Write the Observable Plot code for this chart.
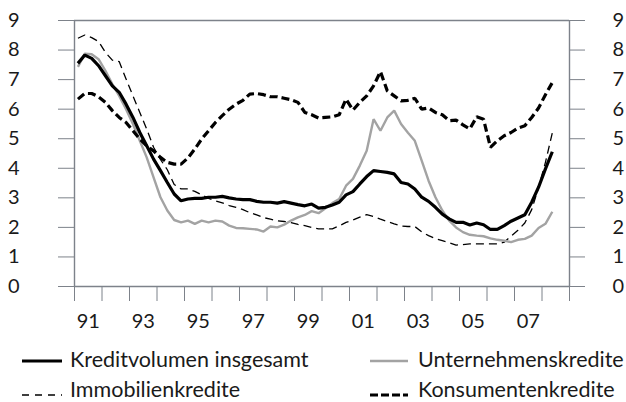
<!DOCTYPE html>
<html>
<head>
<meta charset="utf-8">
<script src="https://cdn.jsdelivr.net/npm/d3@7"></script>
<script src="https://cdn.jsdelivr.net/npm/@observablehq/plot@0.6"></script>
<style>
  html, body { margin: 0; padding: 0; background: #fff; }
  body { width: 626px; height: 402px; overflow: hidden; font-family: Lato, "Open Sans", sans-serif; color: #1a1a1a; }
  #chart svg, #legend svg { display: block; }
</style>
</head>
<body>
<div id="chart"></div>
<div id="legend"></div>
<script>
// Quarterly observations, 1991 Q1 … 2008 Q2 (year-over-year growth, %)
const firstQuarter = 1991; // first year of data
const nQuarters = 70;

const kreditvolumen = [
  7.55, 7.83, 7.72, 7.47, 7.13, 6.79, 6.57, 6.17, 5.72, 5.21, 4.76, 4.31,
  3.92, 3.52, 3.13, 2.90, 2.96, 2.98, 2.98, 3.02, 3.02, 3.05, 3.00, 2.96,
  2.94, 2.94, 2.88, 2.85, 2.85, 2.82, 2.87, 2.82, 2.77, 2.73, 2.79, 2.65,
  2.68, 2.76, 2.85, 3.10, 3.21, 3.47, 3.72, 3.92, 3.89, 3.86, 3.81, 3.52,
  3.47, 3.30, 3.02, 2.88, 2.68, 2.45, 2.29, 2.17, 2.17, 2.08, 2.15, 2.09,
  1.93, 1.93, 2.06, 2.21, 2.32, 2.43, 2.85, 3.36, 3.98, 4.56
];
const unternehmen = [
  7.43, 7.88, 7.86, 7.69, 7.30, 6.85, 6.45, 6.00, 5.50, 4.93, 4.37, 3.69,
  3.02, 2.57, 2.25, 2.17, 2.23, 2.12, 2.23, 2.17, 2.23, 2.20, 2.06, 1.98,
  1.97, 1.95, 1.93, 1.86, 2.03, 2.00, 2.09, 2.23, 2.34, 2.42, 2.55, 2.48,
  2.65, 2.82, 2.96, 3.41, 3.64, 4.09, 4.59, 5.66, 5.27, 5.72, 5.95, 5.50,
  5.20, 4.93, 4.26, 3.58, 3.02, 2.57, 2.23, 2.00, 1.84, 1.75, 1.72, 1.70,
  1.63, 1.58, 1.55, 1.50, 1.58, 1.61, 1.72, 1.98, 2.12, 2.53
];
const immobilien = [
  8.40, 8.51, 8.42, 8.29, 7.92, 7.66, 7.61, 7.02, 6.45, 5.89, 5.33, 4.71,
  4.30, 3.95, 3.45, 3.30, 3.30, 3.22, 3.10, 2.98, 2.90, 2.83, 2.74, 2.68,
  2.60, 2.50, 2.42, 2.33, 2.28, 2.22, 2.20, 2.16, 2.10, 2.06, 2.00, 1.95,
  1.95, 1.95, 2.05, 2.17, 2.25, 2.35, 2.43, 2.37, 2.28, 2.20, 2.12, 2.05,
  2.03, 2.03, 1.85, 1.72, 1.62, 1.55, 1.48, 1.40, 1.42, 1.44, 1.44, 1.44,
  1.44, 1.44, 1.50, 1.70, 1.90, 2.15, 2.60, 3.35, 4.20, 5.20
];
const konsum = [
  6.34, 6.53, 6.53, 6.42, 6.23, 5.95, 5.72, 5.55, 5.27, 4.99, 4.76, 4.59,
  4.37, 4.20, 4.14, 4.14, 4.35, 4.65, 4.99, 5.27, 5.55, 5.78, 6.00, 6.17,
  6.30, 6.51, 6.53, 6.49, 6.42, 6.42, 6.37, 6.32, 6.23, 5.89, 5.81, 5.70,
  5.72, 5.74, 5.81, 6.34, 5.97, 6.23, 6.45, 6.79, 7.27, 6.62, 6.45, 6.28,
  6.30, 6.37, 6.00, 6.04, 5.89, 5.81, 5.61, 5.63, 5.47, 5.33, 5.74, 5.66,
  4.71, 4.93, 5.10, 5.21, 5.36, 5.44, 5.72, 6.04, 6.49, 6.90
];

const seriesNames = ["Kreditvolumen insgesamt", "Unternehmenskredite", "Immobilienkredite", "Konsumentenkredite"];
const yTicks = [0, 1, 2, 3, 4, 5, 6, 7, 8, 9];
const xLabelYears = [1991, 1993, 1995, 1997, 1999, 2001, 2003, 2005, 2007];
const xLabels = ["91", "93", "95", "97", "99", "01", "03", "05", "07"];

// styles
const styles = {
  "Kreditvolumen insgesamt": {stroke: "#000", strokeWidth: 3.2, dash: null, legendDash: null},
  "Unternehmenskredite": {stroke: "#a3a3a3", strokeWidth: 2.4, dash: null, legendDash: null},
  "Immobilienkredite": {stroke: "#000", strokeWidth: 1.3, dash: "8,5", legendDash: "7,6"},
  "Konsumentenkredite": {stroke: "#000", strokeWidth: 3.2, dash: "8,4", legendDash: "8,3"}
};

const quarterTime = d3.range(nQuarters).map(i => firstQuarter + 0.125 + 0.25 * i);
const seriesValues = [kreditvolumen, unternehmen, immobilien, konsum];
const data = seriesNames.map((name, s) => quarterTime.map((t, i) => ({series: name, t, v: seriesValues[s][i]})));

const axisColor = "#7d828a";
const yearTicks = d3.range(firstQuarter, 2010);

const lineMarks = [2, 1, 0, 3].map(s => Plot.line(data[s], {
  x: "t", y: "v",
  stroke: styles[seriesNames[s]].stroke,
  strokeWidth: styles[seriesNames[s]].strokeWidth,
  strokeDasharray: styles[seriesNames[s]].dash,
  strokeLinejoin: "miter",
  strokeLinecap: "butt",
  curve: "linear"
}));

const chart = Plot.plot({
  width: 626,
  height: 338,
  marginLeft: 74,
  marginRight: 57,
  marginTop: 20,
  marginBottom: 52,
  style: {fontFamily: "Lato, 'Open Sans', sans-serif", fontSize: "20px", color: "#1a1a1a", background: "#fff"},
  x: {domain: [1991, 2009], label: null},
  y: {domain: [0, 9], label: null},
  marks: [
    Plot.ruleY([0, 9], {stroke: axisColor, strokeWidth: 1.4}),
    Plot.ruleX([1991, 2009], {stroke: axisColor, strokeWidth: 1.4}),
    Plot.axisY(yTicks, {anchor: "left", label: null, tickSize: 16, tickPadding: 39, stroke: axisColor, fill: "#1a1a1a", fontSize: 20, tickFormat: d => String(d)}),
    Plot.axisY(yTicks, {anchor: "right", label: null, tickSize: 15, tickPadding: 28, stroke: axisColor, fill: "#1a1a1a", fontSize: 20, tickFormat: d => String(d)}),
    Plot.axisX(yearTicks, {anchor: "bottom", label: null, tickSize: 15, stroke: axisColor, tickFormat: () => ""}),
    Plot.axisX(xLabelYears.map(y => y + 0.5), {anchor: "bottom", label: null, tickSize: 0, tickPadding: 27, fill: "#1a1a1a", fontSize: 20, tickFormat: (d, i) => xLabels[i]}),
    ...lineMarks
  ]
});
document.getElementById("chart").appendChild(chart);

// legend (drawn as a small SVG below the chart)
const legendLayout = [
  {x: 22, w: 40, lineY: 23, baseY: 29},
  {x: 370, w: 38, lineY: 23, baseY: 29},
  {x: 22, w: 40, lineY: 57, baseY: 59},
  {x: 370, w: 38, lineY: 57, baseY: 59}
];
const ns = "http://www.w3.org/2000/svg";
const lsvg = document.createElementNS(ns, "svg");
lsvg.setAttribute("width", 626);
lsvg.setAttribute("height", 64);
seriesNames.forEach((name, s) => {
  const st = styles[name], L = legendLayout[s];
  const line = document.createElementNS(ns, "line");
  line.setAttribute("x1", L.x); line.setAttribute("x2", L.x + L.w);
  line.setAttribute("y1", L.lineY); line.setAttribute("y2", L.lineY);
  line.setAttribute("stroke", st.stroke);
  line.setAttribute("stroke-width", st.strokeWidth);
  if (st.legendDash) line.setAttribute("stroke-dasharray", st.legendDash);
  lsvg.appendChild(line);
  const text = document.createElementNS(ns, "text");
  text.setAttribute("x", L.x + L.w + (s % 2 === 0 ? 8 : 10));
  text.setAttribute("y", L.baseY);
  text.setAttribute("font-family", "Lato, 'Open Sans', sans-serif");
  text.setAttribute("font-size", "21.5");
  text.setAttribute("fill", "#1a1a1a");
  text.textContent = name;
  lsvg.appendChild(text);
});
document.getElementById("legend").appendChild(lsvg);
</script>
</body>
</html>
